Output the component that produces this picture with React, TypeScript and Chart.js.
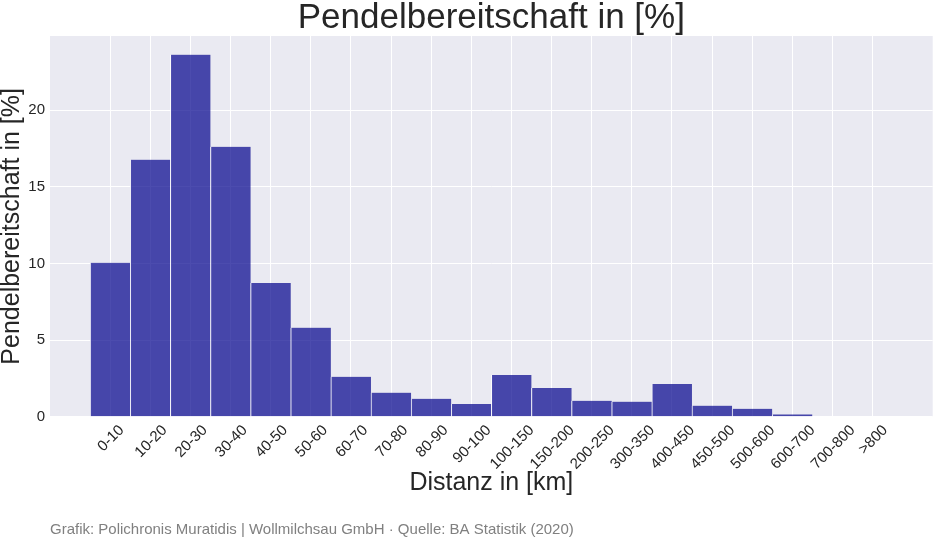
import React, { useEffect, useRef } from "react";
import { Chart, registerables } from "chart.js";

Chart.register(...registerables);

const categories: string[] = [
  "0-10", "10-20", "20-30", "30-40", "40-50", "50-60", "60-70", "70-80", "80-90", "90-100",
  "100-150", "150-200", "200-250", "300-350", "400-450", "450-500", "500-600", "600-700", "700-800", ">800",
];
const values: number[] = [
  10.05, 16.78, 23.63, 17.62, 8.73, 5.81, 2.61, 1.57, 1.17, 0.83,
  2.72, 1.87, 1.04, 0.98, 2.13, 0.72, 0.52, 0.15, 0, 0,
];
const yTicks: number[] = [0, 5, 10, 15, 20];

const TITLE = "Pendelbereitschaft in [%]";
const Y_TITLE = "Pendelbereitschaft in [%]";
const X_TITLE = "Distanz in [km]";
const FOOTER = "Grafik: Polichronis Muratidis | Wollmilchsau GmbH · Quelle: BA Statistik (2020)";

const FONT = "'Liberation Sans', Arial, sans-serif";
const TEXT = "#262626";
const TICK_SIZE = 15;

export default function App() {
  const ref = useRef<HTMLCanvasElement | null>(null);

  useEffect(() => {
    document.body.style.margin = "0";
    const canvas = ref.current;
    if (!canvas) return;
    Chart.defaults.font.family = FONT;

    const bgPlugin = {
      id: "plotBg",
      beforeDraw(chart: any) {
        const { ctx, chartArea } = chart;
        ctx.save();
        ctx.fillStyle = "#EAEAF2";
        ctx.fillRect(chartArea.left, chartArea.top, chartArea.right - chartArea.left, chartArea.bottom - chartArea.top);
        ctx.restore();
      },
    };
    // x tick labels rotated 45deg, centred on their tick (matplotlib style)
    const xLabelPlugin = {
      id: "xLabels",
      afterDraw(chart: any) {
        const { ctx, chartArea } = chart;
        const xs = chart.scales.x;
        const capH = TICK_SIZE * 0.716;
        const top = chartArea.bottom + 6.5;
        ctx.save();
        ctx.font = `${TICK_SIZE}px ${FONT}`;
        ctx.fillStyle = TEXT;
        ctx.textAlign = "left";
        ctx.textBaseline = "alphabetic";
        categories.forEach((lab, i) => {
          const w = ctx.measureText(lab).width;
          const box = (w + capH) * Math.SQRT1_2;
          const cx = xs.getPixelForValue(i);
          const cy = top + box / 2;
          ctx.save();
          ctx.translate(cx, cy);
          ctx.rotate(-Math.PI / 4);
          ctx.fillText(lab, -w / 2, capH / 2);
          ctx.restore();
        });
        ctx.restore();
      },
    };
    const footerPlugin = {
      id: "footer",
      afterDraw(chart: any) {
        const { ctx } = chart;
        ctx.save();
        ctx.font = `15px ${FONT}`;
        ctx.fillStyle = "#808080";
        ctx.textAlign = "left";
        ctx.textBaseline = "alphabetic";
        ctx.fillText(FOOTER, 50, 534);
        ctx.restore();
      },
    };

    const chart = new Chart(canvas, {
      type: "bar",
      data: {
        datasets: [
          {
            data: values.map((v, i) => ({ x: i, y: v })),
            backgroundColor: "rgba(0,0,139,0.7)",
            borderColor: "rgba(255,255,255,0.85)",
            borderWidth: { left: 1, right: 0, top: 0, bottom: 0 },
            borderSkipped: false,
            barPercentage: 1,
            categoryPercentage: 1,
          } as any,
        ],
      },
      options: {
        animation: false,
        responsive: false,
        layout: { padding: { left: 0, right: 3.3, top: 0, bottom: 43.3 } },
        plugins: {
          legend: { display: false },
          tooltip: { enabled: false },
          title: {
            display: true,
            text: TITLE,
            fullSize: false,
            color: TEXT,
            font: { size: 35, family: FONT, weight: "normal", lineHeight: 36 / 35 },
            padding: { top: 0, bottom: 0 },
          },
        },
        scales: {
          x: {
            type: "linear",
            min: -1.5,
            max: 20.5,
            offset: false,
            afterBuildTicks: (scale: any) => {
              scale.ticks = categories.map((_, i) => ({ value: i }));
            },
            afterFit: (scale: any) => {
              scale.height = 80;
            },
            ticks: {
              display: false,
              autoSkip: false,
              callback: (_v: any, i: number) => categories[i],
            },
            grid: { color: "#FFFFFF", lineWidth: 1, drawTicks: false, tickLength: 0, offset: false },
            border: { display: false },
            title: {
              display: true,
              text: X_TITLE,
              color: TEXT,
              font: { size: 25, family: FONT, lineHeight: 1 },
              padding: { top: 0, bottom: 1.2 },
            },
          },
          y: {
            type: "linear",
            min: 0,
            max: 24.85,
            afterBuildTicks: (scale: any) => {
              scale.ticks = yTicks.map((v) => ({ value: v }));
            },
            afterFit: (scale: any) => {
              scale.width = 50;
            },
            ticks: {
              padding: 5,
              color: TEXT,
              font: { size: TICK_SIZE, family: FONT },
              callback: (v: any) => String(v),
            },
            grid: { color: "#FFFFFF", lineWidth: 1, drawTicks: false, tickLength: 0 },
            border: { display: false },
            title: {
              display: true,
              text: Y_TITLE,
              color: TEXT,
              font: { size: 25, family: FONT, lineHeight: 1 },
              padding: { top: 0, bottom: 0 },
            },
          },
        },
      },
      plugins: [bgPlugin, xLabelPlugin, footerPlugin],
    });

    return () => chart.destroy();
  }, []);

  return (
    <div style={{ position: "absolute", left: 0, top: 0, width: 936, height: 540 }}>
      <canvas ref={ref} width={936} height={540} style={{ width: 936, height: 540 }} />
    </div>
  );
}
